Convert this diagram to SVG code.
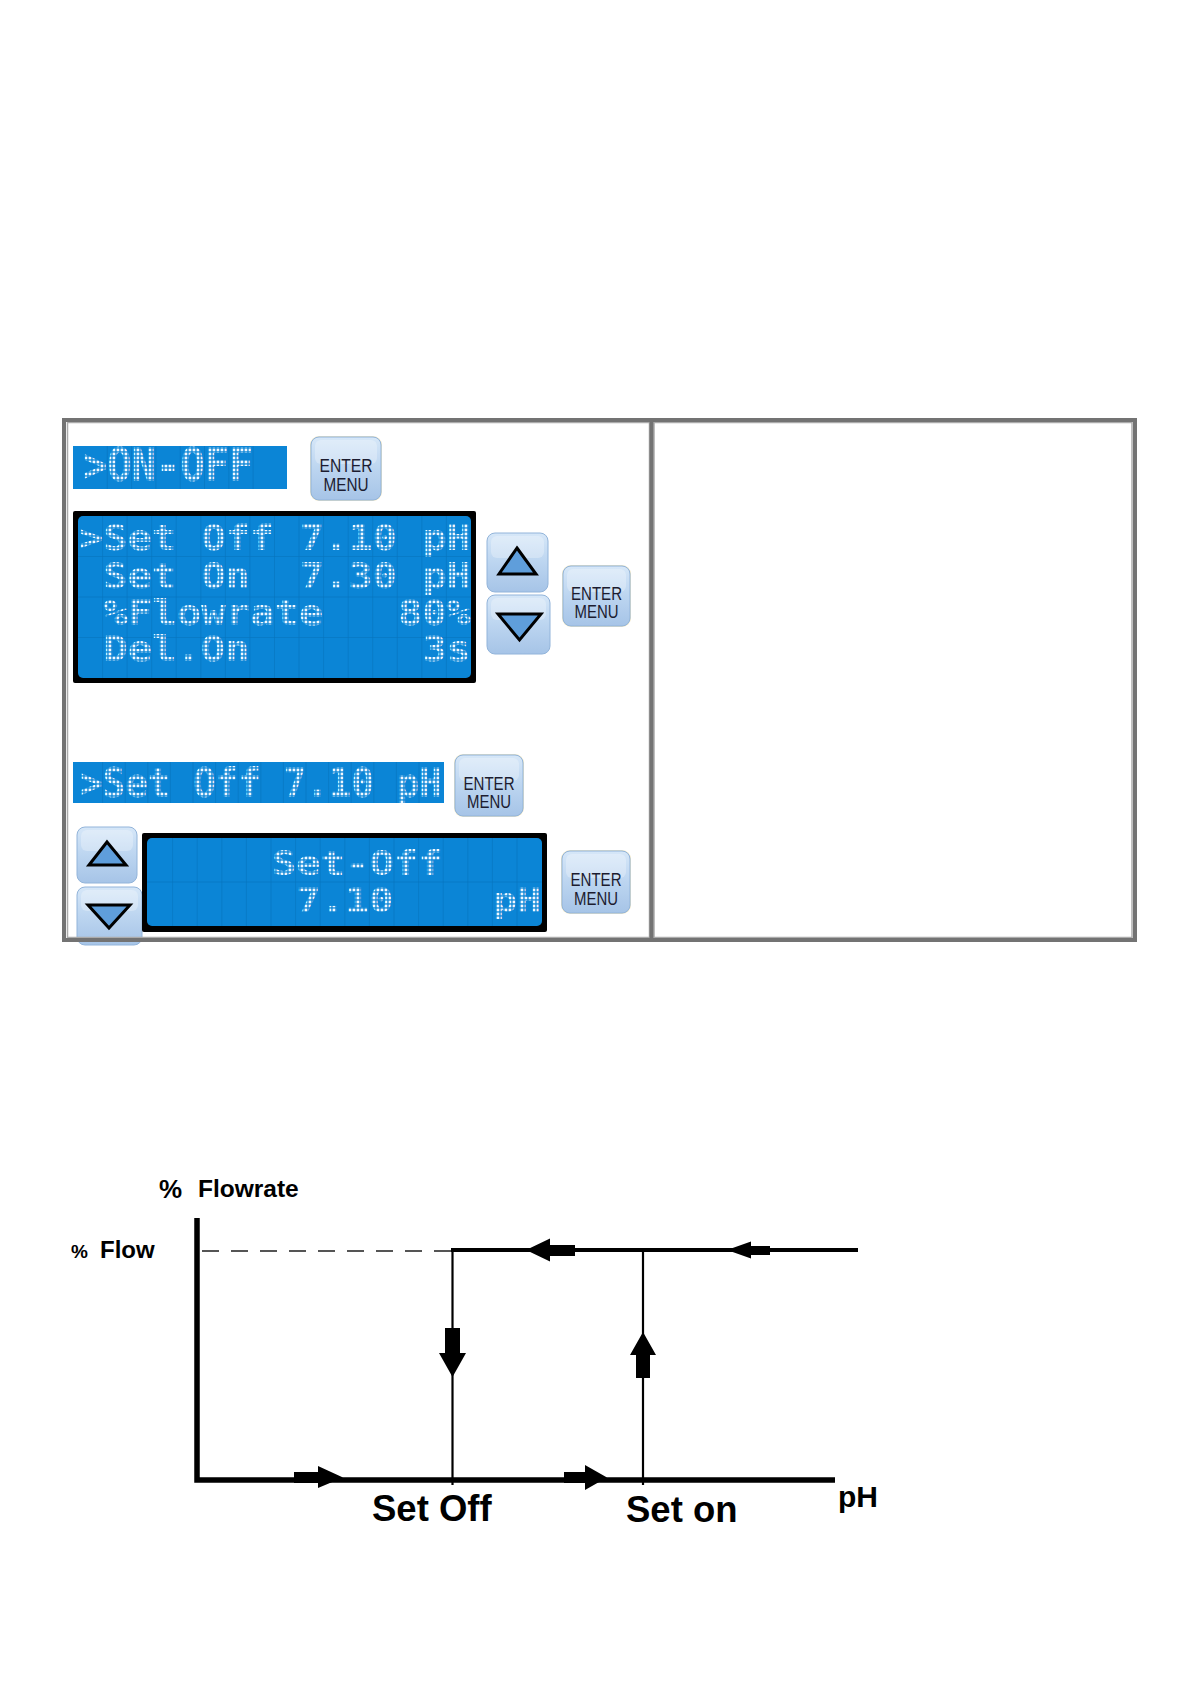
<svg xmlns="http://www.w3.org/2000/svg" width="1191" height="1684" viewBox="0 0 1191 1684">
<style>
.lcdbg{fill:#0b85d6}
.lcdframe{fill:#000}
.grid{stroke:#0872bb;stroke-width:1;opacity:.55;fill:none}
.lcd{font-family:"DejaVu Sans Mono","Liberation Mono",monospace;font-weight:bold;fill:url(#dots)}
.r1{font-size:35px}
.r2{font-size:33px}
.btn{fill:url(#btnGrad);stroke:#92b4da;stroke-width:1}
.glow{fill:#efe2b8;opacity:.8}
.hl{fill:#fff;opacity:.28}
.btxt{font-family:"Liberation Sans","DejaVu Sans",sans-serif;font-size:17.5px;fill:#1c1c30;text-anchor:middle}
.tri{fill:#5f9edb;stroke:#000;stroke-width:3;stroke-linejoin:miter}
.frame{fill:none;stroke:#737373;stroke-width:4}
.frameIn{fill:none;stroke:#ababab;stroke-width:1.5}
.ax{fill:none;stroke:#000;stroke-linejoin:miter}
.arr{fill:#000}
.lbl{font-family:"Liberation Sans",Arial,sans-serif;font-weight:bold;fill:#000}
</style>
<defs>
<pattern id="dots" patternUnits="userSpaceOnUse" width="4" height="4">
<rect x="0.6" y="0.6" width="2.7" height="2.7" fill="#f2f8ff"/>
</pattern>
<linearGradient id="btnGrad" x1="0" y1="0" x2="0" y2="1">
<stop offset="0" stop-color="#d6e7f8"/>
<stop offset="0.5" stop-color="#bcd5f0"/>
<stop offset="1" stop-color="#a6c4e7"/>
</linearGradient>
</defs>
<rect width="1191" height="1684" fill="#fff"/>

<g id="bar-onoff">
<rect class="lcdbg" x="73" y="446" width="214" height="43"/>
<path class="grid" d="M107.3,446V489M131.6,446V489M155.9,446V489M180.2,446V489M204.5,446V489M228.8,446V489M253.1,446V489"/>
<text class="lcd" x="83" y="481" font-size="46" textLength="170" lengthAdjust="spacingAndGlyphs">&gt;ON-OFF</text>
</g>

<g id="btn-enter1">
<rect class="glow" x="310" y="436" width="72" height="65" rx="9"/>
<rect class="btn" x="311" y="437" width="70" height="63" rx="8"/>
<rect class="hl" x="315" y="440" width="62" height="24" rx="6"/>
<text class="btxt" x="346" y="472" textLength="53" lengthAdjust="spacingAndGlyphs">ENTER</text>
<text class="btxt" x="346" y="491" textLength="45" lengthAdjust="spacingAndGlyphs">MENU</text>
</g>

<g id="lcd-main">
<rect class="lcdframe" x="73" y="511" width="403" height="172" rx="2"/>
<rect class="lcdbg" x="78" y="516" width="393" height="162" rx="5"/>
<path class="grid" d="M102.6,516V678M127.1,516V678M151.7,516V678M176.2,516V678M200.8,516V678M225.4,516V678M249.9,516V678M274.5,516V678M299,516V678M323.6,516V678M348.2,516V678M372.7,516V678M397.3,516V678M421.8,516V678M446.4,516V678M78,556.5H471M78,597H471M78,637.5H471"/>
<text class="lcd r1" x="79" y="550" textLength="97" lengthAdjust="spacingAndGlyphs">&gt;Set</text>
<text class="lcd r1" x="201.5" y="550" textLength="72.5" lengthAdjust="spacingAndGlyphs">Off</text>
<text class="lcd r1" x="299.7" y="550" textLength="97" lengthAdjust="spacingAndGlyphs">7.10</text>
<text class="lcd r1" x="422.5" y="550" textLength="48" lengthAdjust="spacingAndGlyphs">pH</text>
<text class="lcd r1" x="103.3" y="588" textLength="72.5" lengthAdjust="spacingAndGlyphs">Set</text>
<text class="lcd r1" x="201.5" y="588" textLength="48" lengthAdjust="spacingAndGlyphs">On</text>
<text class="lcd r1" x="299.7" y="588" textLength="97" lengthAdjust="spacingAndGlyphs">7.30</text>
<text class="lcd r1" x="422.5" y="588" textLength="48" lengthAdjust="spacingAndGlyphs">pH</text>
<text class="lcd r1" x="103.3" y="625" textLength="220" lengthAdjust="spacingAndGlyphs">%Flowrate</text>
<text class="lcd r1" x="398" y="625" textLength="72.5" lengthAdjust="spacingAndGlyphs">80%</text>
<text class="lcd r1" x="103.3" y="661" textLength="146" lengthAdjust="spacingAndGlyphs">Del.On</text>
<text class="lcd r1" x="422.5" y="661" textLength="48" lengthAdjust="spacingAndGlyphs">3s</text>
</g>

<g id="btn-up1">
<rect class="btn" x="487" y="533" width="61" height="59" rx="8"/>
<rect class="hl" x="491" y="536" width="53" height="22" rx="6"/>
<polygon class="tri" points="517,548 536,574 499,574"/>
</g>
<g id="btn-down1">
<rect class="btn" x="487" y="595" width="63" height="59" rx="8"/>
<rect class="hl" x="491" y="598" width="55" height="22" rx="6"/>
<polygon class="tri" points="498,614 541,614 519.5,640"/>
</g>

<g id="btn-enter2">
<rect class="glow" x="562" y="565" width="69" height="62" rx="9"/>
<rect class="btn" x="563" y="566" width="67" height="60" rx="8"/>
<rect class="hl" x="567" y="569" width="59" height="23" rx="6"/>
<text class="btxt" x="596.5" y="600" textLength="51" lengthAdjust="spacingAndGlyphs">ENTER</text>
<text class="btxt" x="596.5" y="618" textLength="44" lengthAdjust="spacingAndGlyphs">MENU</text>
</g>

<g id="bar-setoff">
<rect class="lcdbg" x="73" y="762" width="371" height="41"/>
<path class="grid" d="M102.6,762V803M125.2,762V803M147.8,762V803M170.4,762V803M193,762V803M215.6,762V803M238.2,762V803M260.8,762V803M283.4,762V803M306,762V803M328.6,762V803M351.2,762V803M373.8,762V803M396.4,762V803M419,762V803"/>
<text class="lcd" x="80" y="797" font-size="41" textLength="90.4" lengthAdjust="spacingAndGlyphs">&gt;Set</text>
<text class="lcd" x="193" y="797" font-size="41" textLength="67.8" lengthAdjust="spacingAndGlyphs">Off</text>
<text class="lcd" x="283.4" y="797" font-size="41" textLength="90.4" lengthAdjust="spacingAndGlyphs">7.10</text>
<text class="lcd" x="396.4" y="797" font-size="41" textLength="45.2" lengthAdjust="spacingAndGlyphs">pH</text>
</g>

<g id="btn-enter3">
<rect class="glow" x="454" y="754" width="70" height="63" rx="9"/>
<rect class="btn" x="455" y="755" width="68" height="61" rx="8"/>
<rect class="hl" x="459" y="758" width="60" height="23" rx="6"/>
<text class="btxt" x="489" y="790" textLength="51" lengthAdjust="spacingAndGlyphs">ENTER</text>
<text class="btxt" x="489" y="808" textLength="44" lengthAdjust="spacingAndGlyphs">MENU</text>
</g>

<g id="btn-up2">
<rect class="btn" x="77" y="827" width="60" height="56" rx="8"/>
<rect class="hl" x="81" y="830" width="52" height="21" rx="6"/>
<polygon class="tri" points="107,842 126,865 89,865"/>
</g>
<g id="btn-down2">
<rect class="btn" x="77" y="887" width="65" height="58" rx="8"/>
<rect class="hl" x="81" y="890" width="57" height="21" rx="6"/>
<polygon class="tri" points="88,905 130,905 109,928"/>
</g>

<g id="lcd-edit">
<rect class="lcdframe" x="142" y="833" width="405" height="99" rx="2"/>
<rect class="lcdbg" x="147" y="838" width="395" height="88" rx="5"/>
<path class="grid" d="M172.6,838V926M197.2,838V926M221.8,838V926M246.4,838V926M271,838V926M295.6,838V926M320.2,838V926M344.8,838V926M369.4,838V926M394,838V926M418.6,838V926M443.2,838V926M467.8,838V926M492.4,838V926M517,838V926M147,882H542"/>
<text class="lcd r2" x="271.7" y="874.5" textLength="171" lengthAdjust="spacingAndGlyphs">Set-Off</text>
<text class="lcd r2" x="296.3" y="912" textLength="97" lengthAdjust="spacingAndGlyphs">7.10</text>
<text class="lcd r2" x="493.1" y="912" textLength="48" lengthAdjust="spacingAndGlyphs">pH</text>
</g>

<g id="btn-enter4">
<rect class="glow" x="561" y="850" width="70" height="64" rx="9"/>
<rect class="btn" x="562" y="851" width="68" height="62" rx="8"/>
<rect class="hl" x="566" y="854" width="60" height="24" rx="6"/>
<text class="btxt" x="596" y="886" textLength="51" lengthAdjust="spacingAndGlyphs">ENTER</text>
<text class="btxt" x="596" y="905" textLength="44" lengthAdjust="spacingAndGlyphs">MENU</text>
</g>

<g id="frame">
<rect class="frameIn" x="67.5" y="422.5" width="582" height="515"/>
<rect class="frameIn" x="654" y="422.5" width="478" height="515"/>
<rect class="frame" x="64" y="420" width="1071" height="520"/>
<line x1="651.5" y1="420" x2="651.5" y2="940" stroke="#737373" stroke-width="4"/>
</g>

<g id="chart-labels">
<text class="lbl" x="159" y="1198" font-size="26">%</text>
<text class="lbl" x="198" y="1197" font-size="24.5">Flowrate</text>
<text class="lbl" x="71" y="1258" font-size="19" font-weight="normal">%</text>
<text class="lbl" x="100" y="1258" font-size="24">Flow</text>
<text class="lbl" x="372" y="1521" font-size="36.5">Set Off</text>
<text class="lbl" x="626" y="1522" font-size="36.5">Set on</text>
<text class="lbl" x="838" y="1507" font-size="30">pH</text>
</g>

<g id="connectors">
<path class="ax" d="M197,1218V1480H835" stroke-width="5.5"/>
<line x1="202" y1="1251" x2="451" y2="1251" stroke="#555" stroke-width="1.8" stroke-dasharray="17 12"/>
<line x1="451" y1="1250" x2="858" y2="1250" stroke="#000" stroke-width="4"/>
<line x1="452.5" y1="1250" x2="452.5" y2="1485" stroke="#000" stroke-width="2.2"/>
<line x1="643" y1="1250" x2="643" y2="1485" stroke="#000" stroke-width="2.2"/>
<polygon class="arr" points="526,1250 550,1238.5 550,1245 575,1245 575,1256 550,1256 550,1261.5"/>
<polygon class="arr" points="727,1250 751,1241.5 751,1246 770,1246 770,1255 751,1255 751,1258.5"/>
<polygon class="arr" points="445,1328 460,1328 460,1353 466,1353 452.5,1377 439,1353 445,1353"/>
<polygon class="arr" points="643,1332 656,1355 650,1355 650,1378 636,1378 636,1355 630,1355"/>
<polygon class="arr" points="294,1472 318,1472 318,1466 343,1477.5 318,1488 318,1483 294,1483"/>
<polygon class="arr" points="564,1472 585,1472 585,1465 607,1477.5 585,1490 585,1483 564,1483"/>
</g>
</svg>
